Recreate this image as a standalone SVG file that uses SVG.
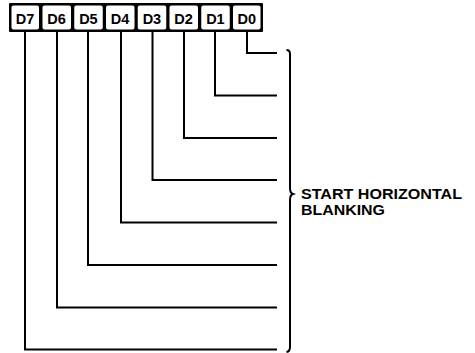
<svg xmlns="http://www.w3.org/2000/svg" width="475" height="353" viewBox="0 0 475 353">
<style>
.lbl{font-family:"Liberation Sans",Arial,sans-serif;font-weight:bold;font-size:14.5px;fill:#000;text-anchor:middle}
.txt{font-family:"Liberation Sans",Arial,sans-serif;font-weight:bold;font-size:14px;fill:#000}
.ln{fill:none;stroke:#000;stroke-width:2}
.cell{fill:#fff;stroke:none}
</style>
<rect width="475" height="353" fill="#fff"/>
<g id="register">
<rect x="9" y="3" width="254" height="29" rx="1" fill="#000"/>
<rect class="cell" x="11.5" y="5.5" width="27.5" height="24" rx="2"/>
<rect class="cell" x="42.5" y="5.5" width="28.5" height="24" rx="2"/>
<rect class="cell" x="74.25" y="5.5" width="28.5" height="24" rx="2"/>
<rect class="cell" x="106" y="5.5" width="28.5" height="24" rx="2"/>
<rect class="cell" x="137.75" y="5.5" width="28.5" height="24" rx="2"/>
<rect class="cell" x="169.5" y="5.5" width="28.5" height="24" rx="2"/>
<rect class="cell" x="201.25" y="5.5" width="28.5" height="24" rx="2"/>
<rect class="cell" x="233" y="5.5" width="27.5" height="24" rx="2"/>
<text class="lbl" x="25" y="23.5">D7</text>
<text class="lbl" x="56.6" y="23.5">D6</text>
<text class="lbl" x="88.4" y="23.5">D5</text>
<text class="lbl" x="120.1" y="23.5">D4</text>
<text class="lbl" x="151.9" y="23.5">D3</text>
<text class="lbl" x="183.6" y="23.5">D2</text>
<text class="lbl" x="215.4" y="23.5">D1</text>
<text class="lbl" x="246.8" y="23.5">D0</text>
</g>
<g id="connectors">
<polyline class="ln" points="247,32 247,53 277,53"/>
<polyline class="ln" points="215,32 215,95.5 277,95.5"/>
<polyline class="ln" points="184,32 184,138 277,138"/>
<polyline class="ln" points="152.5,32 152.5,180 277,180"/>
<polyline class="ln" points="121,32 121,222.5 277,222.5"/>
<polyline class="ln" points="88,32 88,265 277,265"/>
<polyline class="ln" points="57,32 57,307.5 277,307.5"/>
<polyline class="ln" points="25,32 25,349.5 277,349.5"/>
</g>
<g id="brace">
<path class="ln" d="M286.5,50 Q290,50 290,54 L290,188 Q290,193 293,194 Q290,195 290,200 L290,347 Q290,351.5 286.5,352"/>
</g>
<g id="label">
<text class="txt" x="301" y="199" textLength="161" lengthAdjust="spacingAndGlyphs">START HORIZONTAL</text>
<text class="txt" x="301" y="215" textLength="84" lengthAdjust="spacingAndGlyphs">BLANKING</text>
</g>
</svg>
